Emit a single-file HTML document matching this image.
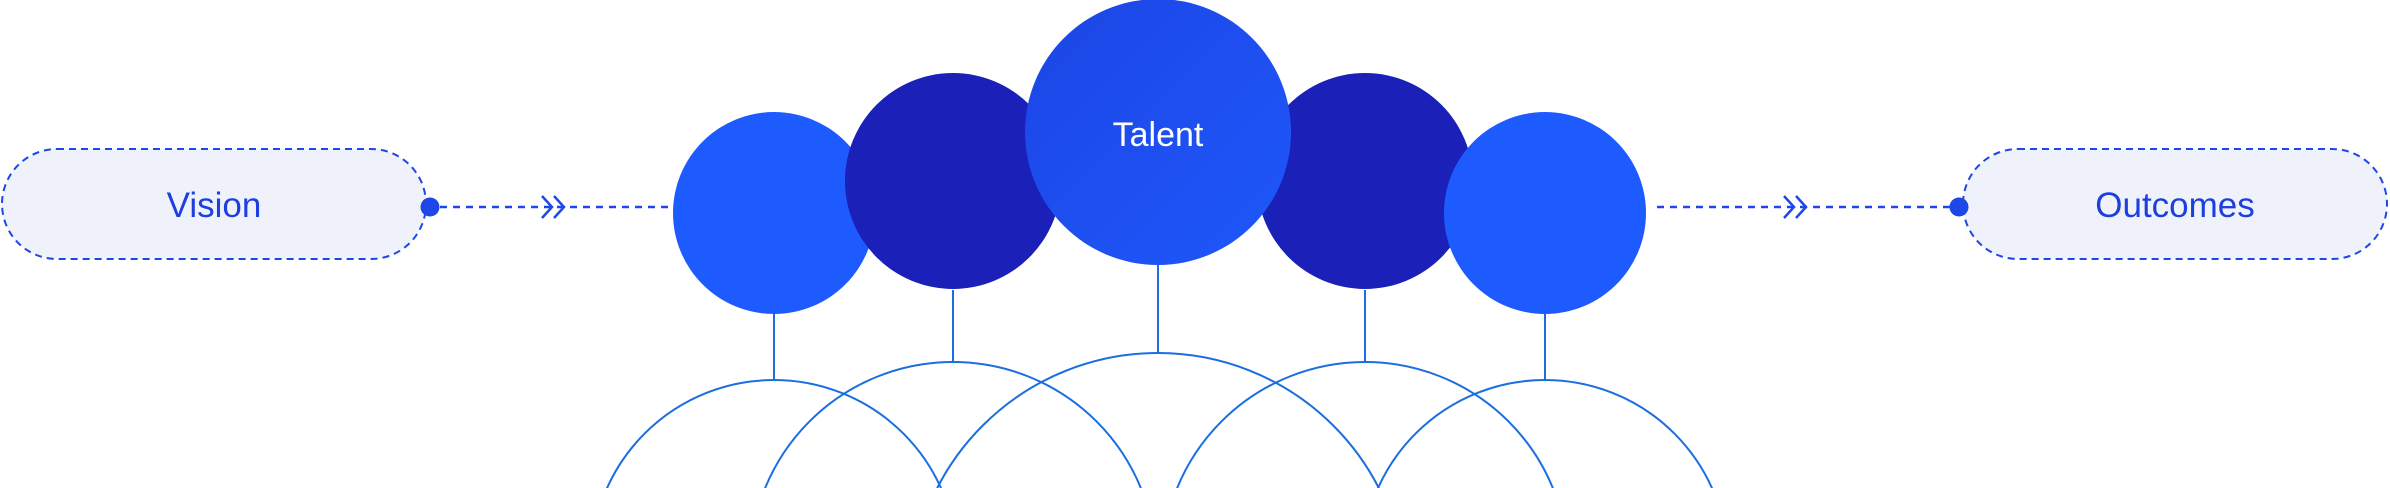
<!DOCTYPE html>
<html><head><meta charset="utf-8"><style>
html,body{margin:0;padding:0;background:#fff;width:2390px;height:488px;overflow:hidden}
svg{display:block}
text{font-family:"Liberation Sans",sans-serif}
</style></head><body>
<svg width="2390" height="488" viewBox="0 0 2390 488" xmlns="http://www.w3.org/2000/svg">
<defs>
<linearGradient id="tg" x1="0" y1="0" x2="1" y2="1">
<stop offset="0" stop-color="#1c45e4"/><stop offset="1" stop-color="#1f58fb"/>
</linearGradient>
</defs>
<g fill="none" stroke="#1a6ee0" stroke-width="2">
<circle cx="774" cy="563" r="183"/>
<circle cx="953" cy="565" r="203"/>
<circle cx="1158" cy="601" r="248"/>
<circle cx="1365" cy="565" r="203"/>
<circle cx="1545" cy="563" r="183"/>
<line x1="774" y1="313" x2="774" y2="380"/>
<line x1="953" y1="290" x2="953" y2="362"/>
<line x1="1158" y1="265" x2="1158" y2="353"/>
<line x1="1365" y1="290" x2="1365" y2="362"/>
<line x1="1545" y1="313" x2="1545" y2="380"/>
</g>
<circle cx="774" cy="213" r="101" fill="#1e5bff"/>
<circle cx="953" cy="181" r="108" fill="#1a20b8"/>
<circle cx="1365" cy="181" r="108" fill="#1a20b8"/>
<circle cx="1545" cy="213" r="101" fill="#1e5bff"/>
<circle cx="1158" cy="132" r="133" fill="url(#tg)"/>
<text x="1158" y="146" text-anchor="middle" font-size="34" fill="#fff" font-weight="500">Talent</text>
<rect x="2" y="149" width="424" height="110" rx="55" fill="#eff2fb" stroke="#1d47e6" stroke-width="2" stroke-dasharray="7 5"/>
<text x="214" y="217" text-anchor="middle" font-size="35" fill="#1d3fe0">Vision</text>
<rect x="1963" y="149" width="424" height="110" rx="55" fill="#eff2fb" stroke="#1d47e6" stroke-width="2" stroke-dasharray="7 5"/>
<text x="2175" y="217" text-anchor="middle" font-size="35" fill="#1d3fe0">Outcomes</text>
<g stroke="#1d47e6" stroke-width="2.5" fill="none">
<line x1="440" y1="207" x2="673" y2="207" stroke-dasharray="7 6"/>
<line x1="1657" y1="207" x2="1950" y2="207" stroke-dasharray="7 6"/>
<polyline points="542,196 552,207 542,218"/>
<polyline points="554,196 564,207 554,218"/>
<polyline points="1784,196 1794,207 1784,218"/>
<polyline points="1796,196 1806,207 1796,218"/>
</g>
<circle cx="430" cy="207" r="9.5" fill="#1d47e6"/>
<circle cx="1959" cy="207" r="9.5" fill="#1d47e6"/>
</svg>
</body></html>
